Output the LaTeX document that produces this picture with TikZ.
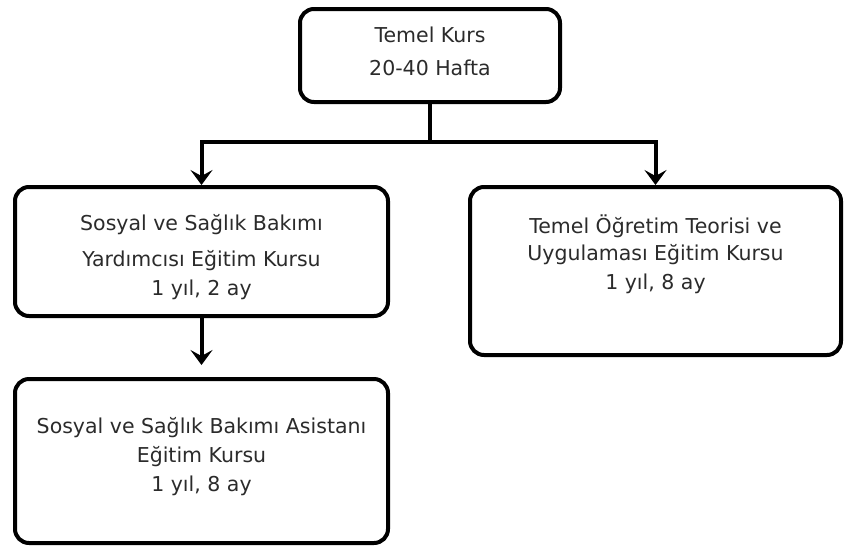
\documentclass[tikz,border=0pt]{standalone}
\usepackage{fontspec}
\setmainfont{DejaVu Sans}
\usepackage{xcolor}
\usetikzlibrary{
    arrows.meta,
    positioning,
    calc
}
\definecolor{ink}{HTML}{000000}
\definecolor{textgray}{HTML}{2B2B2B}
\tikzset{
    % Course box style
    course/.style={
        rectangle,
        rounded corners=14pt,
        draw=ink,
        line width=4pt,
        fill=white,
        inner sep=0pt
    },
    % Course text style
    course text/.style={
        align=center,
        inner sep=0pt,
        text=textgray,
        font=\fontsize{20.5}{29}\selectfont
    },
    % Arrow styles
    flow/.style={
        -{Stealth[length=15pt, width=22pt, inset=6pt]},
        line width=4pt,
        color=ink
    },
    link/.style={
        line width=4pt,
        color=ink
    }
}

\begin{document}
\begin{tikzpicture}[x=1pt, y=-1pt]
        \useasboundingbox (0, 0) rectangle (846, 547);

        % Root
        \node[course, minimum width=260pt, minimum height=93pt] (temel) at (430, 55.5) {};
        \node[course text] (temel-text) at (430, 51.5) {Temel Kurs\\[4pt]20-40 Hafta};

        % Level 1
        \node[course, minimum width=373pt, minimum height=129pt] (yardimci) at (201.5, 251.5) {};
        \node[course text] (yardimci-text) at (201.5, 257.5) {Sosyal ve Sağlık Bakımı\\[7pt]Yardımcısı Eğitim Kursu\\1 yıl, 2 ay};
        \node[course, minimum width=371pt, minimum height=168pt] (ogretim) at (655.5, 271) {};
        \node[course text] (ogretim-text) at (655.5, 254) {Temel Öğretim Teorisi ve\\[-2pt]Uygulaması Eğitim Kursu\\1 yıl, 8 ay};

        % Level 2
        \node[course, minimum width=373pt, minimum height=164pt] (asistan) at (201.5, 461) {};
        \node[course text] (asistan-text) at (201.5, 457) {Sosyal ve Sağlık Bakımı Asistanı\\Eğitim Kursu\\1 yıl, 8 ay};

        % Connections
        \coordinate (split) at (430, 142);
        \draw[link] (temel.south) -- (split);
        \draw[flow] (split) -| (yardimci.north);
        \draw[flow] (split) -| (ogretim.north);
        \draw[flow, shorten >=12pt] (yardimci.south) -- (asistan.north);

    \end{tikzpicture}
\end{document}
